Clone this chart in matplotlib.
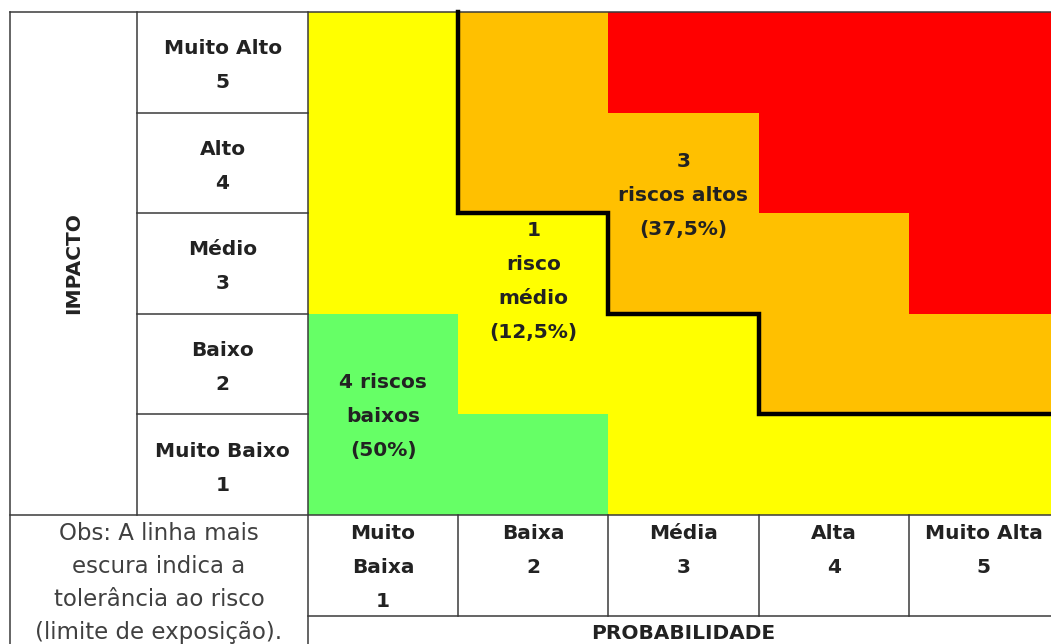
#!/usr/bin/env python3
"""
Matriz de risco (probabilidade x impacto) com linha de tolerância
"""

import matplotlib.pyplot as plt
import numpy as np
from matplotlib.colors import ListedColormap, BoundaryNorm

# --- data -------------------------------------------------------------
impact_labels = ['Muito Baixo\n1', 'Baixo\n2', 'Médio\n3', 'Alto\n4', 'Muito Alto\n5']
prob_labels = ['Muito\nBaixa\n1', 'Baixa\n2', 'Média\n3', 'Alta\n4', 'Muito Alta\n5']

# risk level per cell, rows = impacto 1..5, cols = probabilidade 1..5
# 0 baixo, 1 médio, 2 alto, 3 extremo
risk_levels = np.array([
    [0, 0, 1, 1, 1],
    [0, 1, 1, 2, 2],
    [1, 1, 2, 2, 3],
    [1, 2, 2, 3, 3],
    [1, 2, 3, 3, 3],
])
tolerance_level = 2  # from "alto" upwards it is above tolerance

# group annotations: (probabilidade, impacto of first line, text)
group_notes = [
    (1, 1.82, '4 riscos\nbaixos\n(50%)'),
    (2, 3.33, '1\nrisco\nmédio\n(12,5%)'),
    (3, 4.01, '3\nriscos altos\n(37,5%)'),
]
obs_text = 'Obs: A linha mais\nescura indica a\ntolerância ao risco\n(limite de exposição).'

# --- style ------------------------------------------------------------
level_colors = ['#66FF66', '#FFFF00', '#FFC000', '#FF0000']
grid_col = '#3a3a3a'
txt_col = '#222222'
FONT = 'DejaVu Sans'
FS = 14.5
STEP = 0.338  # line step in row units

fig = plt.figure(figsize=(10.51, 6.44), dpi=100)
ax = fig.add_axes([0, 0, 1, 1])
ax.set_xlim(-1.551, 5.447)
ax.set_ylim(-0.782, 5.619)
ax.axis('off')

n = len(prob_labels)
edges = np.arange(0.5, n + 1.0, 1.0)

# colored matrix
cmap = ListedColormap(level_colors)
norm = BoundaryNorm(np.arange(-0.5, len(level_colors)), cmap.N)
ax.pcolormesh(edges, edges, risk_levels, cmap=cmap, norm=norm, zorder=1)

# tolerance line, stepping along the lower edge of the high-risk zone
tops = []
for p in range(n):
    high = np.where(risk_levels[:, p] >= tolerance_level)[0]
    tops.append(high.min() + 0.5 if len(high) else n + 0.5)
xs, ys = [], []
for p in range(n):
    if tops[p] >= n + 0.5:
        continue
    if not xs:
        xs.append(p + 0.5)
        ys.append(n + 0.5)
    xs += [p + 0.5, p + 1.5]
    ys += [tops[p], tops[p]]
ax.plot(xs, ys, color='black', lw=3.2, solid_joinstyle='miter', zorder=4)

# table lines
x_out, x_lab = -1.484, -0.638
lw = 1.1
ax.plot([x_out, x_out], [n + 0.5, -1.0], color=grid_col, lw=lw, zorder=3)
ax.plot([x_lab, x_lab], [n + 0.5, 0.5], color=grid_col, lw=lw, zorder=3)
ax.plot([0.5, 0.5], [n + 0.5, -1.0], color=grid_col, lw=lw, zorder=3)
ax.plot([x_out, 6], [n + 0.5, n + 0.5], color=grid_col, lw=lw, zorder=3)
ax.plot([x_out, 6], [0.5, 0.5], color=grid_col, lw=lw, zorder=3)
ax.plot([0.5, 6], [-0.5, -0.5], color=grid_col, lw=lw, zorder=3)
for e in edges[1:-1]:
    ax.plot([x_lab, 0.5], [e, e], color=grid_col, lw=lw, zorder=3)
    ax.plot([e, e], [0.5, -0.5], color=grid_col, lw=lw, zorder=3)
ax.plot([edges[-1], edges[-1]], [0.5, -0.5], color=grid_col, lw=lw, zorder=3)

# impact labels (left)
xc = (x_lab + 0.5) / 2
for i, lab in enumerate(impact_labels, start=1):
    for k, line in enumerate(lab.split('\n')):
        ax.text(xc, i + 0.135 - k * STEP, line, ha='center', va='center',
                fontsize=FS, fontweight='bold', family=FONT, color=txt_col)

ax.text((x_out + x_lab) / 2, 3.0, 'IMPACTO', rotation=90, ha='center',
        va='center', fontsize=FS, fontweight='bold', family=FONT, color=txt_col)

# probability labels (bottom)
for p, lab in enumerate(prob_labels, start=1):
    for k, line in enumerate(lab.split('\n')):
        ax.text(p, 0.321 - k * STEP, line, ha='center', va='center',
                fontsize=FS, fontweight='bold', family=FONT, color=txt_col)

ax.text(3.0, -0.673, 'PROBABILIDADE', ha='center', va='center',
        fontsize=FS, fontweight='bold', family=FONT, color=txt_col)

# note
for k, line in enumerate(obs_text.split('\n')):
    ax.text((x_out + 0.5) / 2, 0.321 - k * 0.331, line, ha='center', va='center',
            fontsize=16.5, family=FONT, color='#404040')

# group annotations
for p, y0, note in group_notes:
    for k, line in enumerate(note.split('\n')):
        ax.text(p, y0 - k * STEP, line, ha='center', va='center',
                fontsize=FS, fontweight='bold', family=FONT, color=txt_col, zorder=5)

fig.savefig('out.png', dpi=100)
